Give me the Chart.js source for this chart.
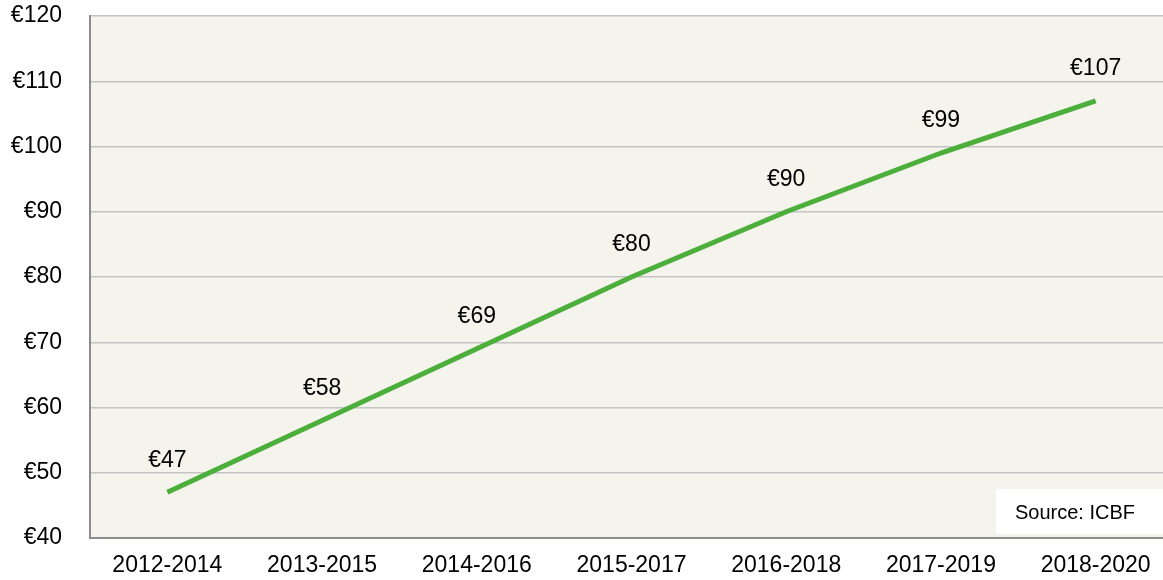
<!DOCTYPE html>
<html>
<head>
<meta charset="utf-8">
<script src="https://cdn.jsdelivr.net/npm/chart.js@4"></script>
<style>
  body { margin: 0; background: #fff; }
  #wrap { position: relative; width: 1163px; height: 580px; overflow: hidden; }
  #myChart { position: absolute; left: 0; top: 0; }
</style>
</head>
<body>
<div id="wrap"><canvas id="myChart" width="1173" height="580"></canvas></div>
<script>
var periods = ['2012-2014', '2013-2015', '2014-2016', '2015-2017', '2016-2018', '2017-2019', '2018-2020'];
var prices = [47, 58, 69, 80, 90, 99, 107];
var yTicks = [40, 50, 60, 70, 80, 90, 100, 110, 120];
var sourceText = 'Source: ICBF';

var FONT = "'Liberation Sans', Arial, sans-serif";
var VISIBLE_W = 1163;

// beige plot background + source box
var decorPlugin = {
    id: 'decor',
    beforeDraw: function(chart) {
        var a = chart.chartArea, ctx = chart.ctx;
        ctx.save();
        ctx.fillStyle = '#f4f3ec';
        ctx.fillRect(a.left, a.top, a.right - a.left, a.bottom - a.top);
        ctx.restore();
    },
    afterDatasetsDraw: function(chart) {
        var a = chart.chartArea, ctx = chart.ctx;
        ctx.save();
        ctx.fillStyle = '#ffffff';
        ctx.fillRect(VISIBLE_W - 167, a.bottom - 49, 167, 45);
        ctx.fillStyle = '#000';
        ctx.font = '20px ' + FONT;
        ctx.textAlign = 'left';
        ctx.textBaseline = 'middle';
        ctx.fillText(sourceText, VISIBLE_W - 148, a.bottom - 25);
        ctx.restore();
    }
};

// value labels above each point
var labelPlugin = {
    id: 'valueLabels',
    afterDatasetsDraw: function(chart) {
        var ctx = chart.ctx;
        var meta = chart.getDatasetMeta(0);
        ctx.save();
        ctx.fillStyle = '#000';
        ctx.font = '23px ' + FONT;
        ctx.textAlign = 'center';
        ctx.textBaseline = 'middle';
        meta.data.forEach(function(pt, i) {
            ctx.fillText('€' + prices[i], pt.x, pt.y - 32);
        });
        ctx.restore();
    }
};

var ctx = document.getElementById('myChart');
var myLineChart = new Chart(ctx, {
    type: 'line',
    data: {
        labels: periods,
        datasets: [{
            data: prices,
            borderColor: '#4cae3b',
            borderWidth: 5,
            pointRadius: 0,
            fill: false,
            tension: 0
        }]
    },
    options: {
        responsive: false,
        animation: false,
        layout: { padding: { top: 16, right: 0, left: 0, bottom: 0 } },
        plugins: {
            legend: { display: false },
            tooltip: { enabled: false }
        },
        scales: {
            x: {
                offset: true,
                grid: { display: false, drawTicks: false },
                border: { color: '#8c8c8c', width: 2 },
                ticks: { color: '#000', font: { family: FONT, size: 23 }, padding: 14, maxRotation: 0 },
                afterFit: function(scale) {
                    scale.height = 42;
                    scale.paddingLeft = 0;
                    scale.paddingRight = 0;
                }
            },
            y: {
                min: 40,
                max: 120,
                afterBuildTicks: function(scale) {
                    scale.ticks = yTicks.map(function(v) { return { value: v }; });
                },
                grid: { color: '#c4c4c4', lineWidth: 1.5, drawTicks: false },
                border: { color: '#8c8c8c', width: 2 },
                ticks: {
                    color: '#000',
                    font: { family: FONT, size: 23 },
                    padding: 28,
                    callback: function(v) { return '€' + v; }
                },
                afterFit: function(scale) {
                    scale.width = 90;
                    scale.paddingTop = 0;
                    scale.paddingBottom = 0;
                }
            }
        }
    },
    plugins: [decorPlugin, labelPlugin]
});
</script>
</body>
</html>
